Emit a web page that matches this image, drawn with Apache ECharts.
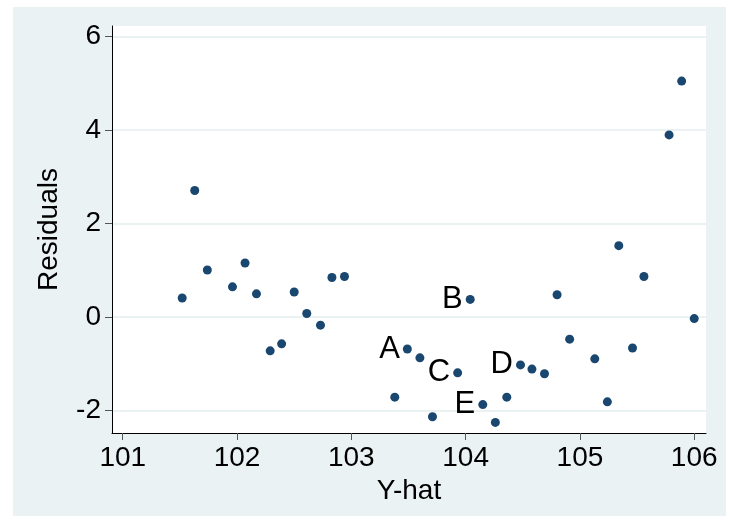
<!DOCTYPE html>
<html>
<head>
<meta charset="utf-8">
<script src="https://cdn.jsdelivr.net/npm/echarts@6/dist/echarts.min.js"></script>
<style>
  html, body { margin: 0; padding: 0; background: #ffffff; }
  #main { width: 731px; height: 523px; }
</style>
</head>
<body>
<div id="main"></div>
<script>
// fitted values (Y-hat) and residuals
var yhat = [101.52, 101.63, 101.74, 101.96, 102.07, 102.17, 102.29, 102.39, 102.50, 102.61,
            102.73, 102.83, 102.94, 103.38, 103.49, 103.60, 103.71, 103.93, 104.04, 104.15,
            104.26, 104.36, 104.48, 104.58, 104.69, 104.80, 104.91, 105.13, 105.24, 105.34,
            105.46, 105.56, 105.78, 105.89, 106.00];
var resid = [0.41, 2.71, 1.01, 0.65, 1.16, 0.50, -0.72, -0.57, 0.54, 0.08,
             -0.17, 0.85, 0.87, -1.71, -0.68, -0.87, -2.13, -1.19, 0.38, -1.87,
             -2.25, -1.71, -1.02, -1.11, -1.21, 0.48, -0.47, -0.89, -1.81, 1.53,
             -0.66, 0.87, 3.90, 5.05, -0.03];
// point labels (index -> letter)
var labels = {14: 'A', 18: 'B', 17: 'C', 22: 'D', 19: 'E'};

var xTicks = [101, 102, 103, 104, 105, 106];
var yTicks = [-2, 0, 2, 4, 6];

var font = '"Liberation Sans", Arial, Helvetica, sans-serif';

var points = yhat.map(function (x, i) {
    var p = { value: [x, resid[i]] };
    if (labels[i]) {
        p.label = { show: true, formatter: labels[i] };
    }
    return p;
});

var chart = echarts.init(document.getElementById('main'));
chart.setOption({
    backgroundColor: '#ffffff',
    animation: false,
    graphic: [{
        type: 'rect',
        z: -10,
        shape: { x: 13, y: 7, width: 713, height: 509 },
        style: { fill: '#eaf2f3' }
    }],
    grid: {
        left: 112, top: 26, width: 594, height: 407,
        show: true, backgroundColor: '#ffffff', borderWidth: 0
    },
    xAxis: {
        type: 'value',
        min: 100.906, max: 106.103,
        name: 'Y-hat',
        nameLocation: 'middle',
        nameGap: 39,
        nameTextStyle: { fontFamily: font, fontSize: 28, color: '#000' },
        axisLine: { show: true, onZero: false, lineStyle: { color: '#000', width: 1 } },
        axisTick: { show: true, length: 7, customValues: xTicks, lineStyle: { color: '#555' } },
        axisLabel: { customValues: xTicks, margin: 11, fontFamily: font, fontSize: 28, color: '#000' },
        splitLine: { show: false }
    },
    yAxis: {
        type: 'value',
        min: -2.477, max: 6.229,
        name: 'Residuals',
        nameLocation: 'middle',
        nameGap: 49,
        nameTextStyle: { fontFamily: font, fontSize: 28, color: '#000' },
        axisLine: { show: true, onZero: false, lineStyle: { color: '#000', width: 1 } },
        axisTick: { show: true, length: 7, customValues: yTicks, lineStyle: { color: '#555' } },
        axisLabel: { customValues: yTicks, margin: 11, fontFamily: font, fontSize: 28, color: '#000' },
        splitLine: { show: true, lineStyle: { color: '#eaf2f3', width: 2 } }
    },
    series: [{
        type: 'scatter',
        symbol: 'circle',
        symbolSize: 9,
        itemStyle: { color: '#1a476f', opacity: 1 },
        label: {
            show: false,
            position: 'left',
            distance: 3,
            fontFamily: font,
            fontSize: 31,
            color: '#000'
        },
        data: points
    }]
});
</script>
</body>
</html>
